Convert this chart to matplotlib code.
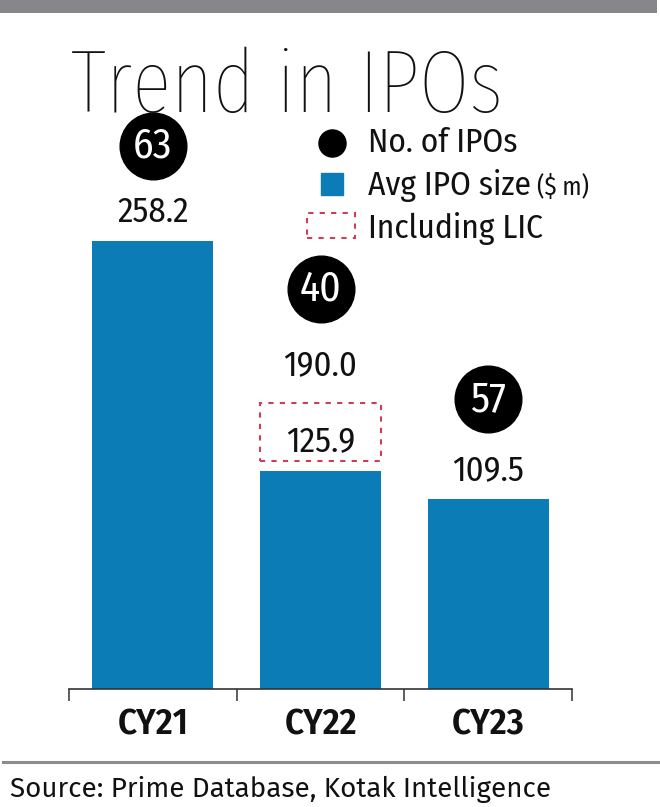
import matplotlib
matplotlib.use("Agg")
import matplotlib.pyplot as plt
from matplotlib import transforms
from matplotlib.patches import Rectangle
from matplotlib.lines import Line2D

# ----------------------------
# Data
# ----------------------------
years = ["CY21", "CY22", "CY23"]
avg_size = [258.2, 125.9, 109.5]       # Avg IPO size ($ m)
num_ipos = [63, 40, 57]                # No. of IPOs
incl_lic = [None, 190.0, None]         # Avg size including LIC

# ----------------------------
# Style
# ----------------------------
BLUE = "#0b7cb5"
RED = "#c8415b"
GREY = "#86868b"
COND = "Fira Sans Condensed"
W, H = 660, 807
circle_up = [95, 182, 100]    # circle centre, px above bar top


def fx(px):
    return px / W


def fy(py):
    return 1 - py / H


fig = plt.figure(figsize=(W / 100, H / 100), dpi=100)

# top band and bottom rule
fig.add_artist(Rectangle((0, fy(13)), fx(657), 13 / H, transform=fig.transFigure,
                         color=GREY, lw=0))
fig.add_artist(Line2D([fx(3), 1], [fy(762), fy(762)], transform=fig.transFigure,
                      color="#8c8c8c", lw=2.2))

fig.text(fx(71), fy(112), "Trend in IPOs", family="Fira Sans Extra Condensed",
         weight=250, fontsize=64, va="baseline", ha="left", color="#111111")

# ----------------------------
# Bars
# ----------------------------
ppu = 448 / 258.2   # pixels per $m
ax = fig.add_axes([fx(69), fy(689), fx(572) - fx(69), 589 / H])
x = list(range(len(years)))
ax.bar(x, avg_size, width=0.72, color=BLUE, zorder=2)
ax.set_xlim(-0.5, 2.5)
ax.set_ylim(0, 589 / ppu)

for s in ["top", "left", "right"]:
    ax.spines[s].set_visible(False)
ax.spines["bottom"].set_color("#333333")
ax.spines["bottom"].set_linewidth(1.2)
ax.set_yticks([])
ax.set_xticks([-0.5, 0.5, 1.5, 2.5])
ax.set_xticklabels([])
ax.tick_params(axis="x", which="major", length=8.5, width=1.1, color="#333333")
ax.set_xticks(x, minor=True)
ax.set_xticklabels(years, minor=True, family=COND, weight=600, fontsize=26.5,
                   color="#111111")
ax.tick_params(axis="x", which="minor", length=0, pad=13)


def up(px):
    return transforms.offset_copy(ax.transData, fig=fig, x=0, y=px, units="dots")


for i in x:
    v = avg_size[i]
    ax.text(i, v, f"{v:.1f}", transform=up(19), ha="center", va="baseline",
            family=COND, fontsize=25, color="#111111")
    if incl_lic[i] is not None:
        ax.add_patch(Rectangle((i - 0.36, v), 0.72, 58 / ppu, transform=up(10),
                               fill=False, ec=RED, lw=1.5, ls=(0, (2.5, 3))))
        ax.text(i, v, f"{incl_lic[i]:.1f}", transform=up(95), ha="center",
                va="baseline", family=COND, fontsize=25, color="#111111")
    ax.plot(i, v, "o", ms=48, color="black", transform=up(circle_up[i]),
            clip_on=False)
    ax.text(i, v, str(num_ipos[i]), transform=up(circle_up[i] - 12), ha="center",
            va="baseline", family=COND, weight=400, fontsize=30, color="white")

# ----------------------------
# Legend
# ----------------------------
fig.add_artist(Line2D([fx(332)], [fy(143)], marker="o", ms=19.5, color="black",
                      transform=fig.transFigure))
fig.add_artist(Line2D([fx(332)], [fy(184)], marker="s", ms=16, color=BLUE,
                      transform=fig.transFigure))
fig.add_artist(Rectangle((fx(307), fy(238)), 48 / W, 25 / H, transform=fig.transFigure,
                         fill=False, ec=RED, lw=1.5, ls=(0, (2.5, 3))))
fig.text(fx(368), fy(152), "No. of IPOs", family=COND, fontsize=24,
         va="baseline", color="#111111")
t1 = fig.text(fx(368), fy(195), "Avg IPO size", family=COND, fontsize=24,
              va="baseline", color="#111111")
fig.canvas.draw()
bb = t1.get_window_extent()
fig.text((bb.x1 + 6) / W, fy(195), "($ m)", family=COND, fontsize=18,
         va="baseline", color="#111111")
fig.text(fx(368), fy(238), "Including LIC", family=COND, fontsize=24,
         va="baseline", color="#111111")

fig.text(fx(10), fy(797), "Source: Prime Database, Kotak Intelligence",
         family="Fira Sans", fontsize=20, va="baseline", color="#111111")

fig.savefig("out.png", dpi=100)
